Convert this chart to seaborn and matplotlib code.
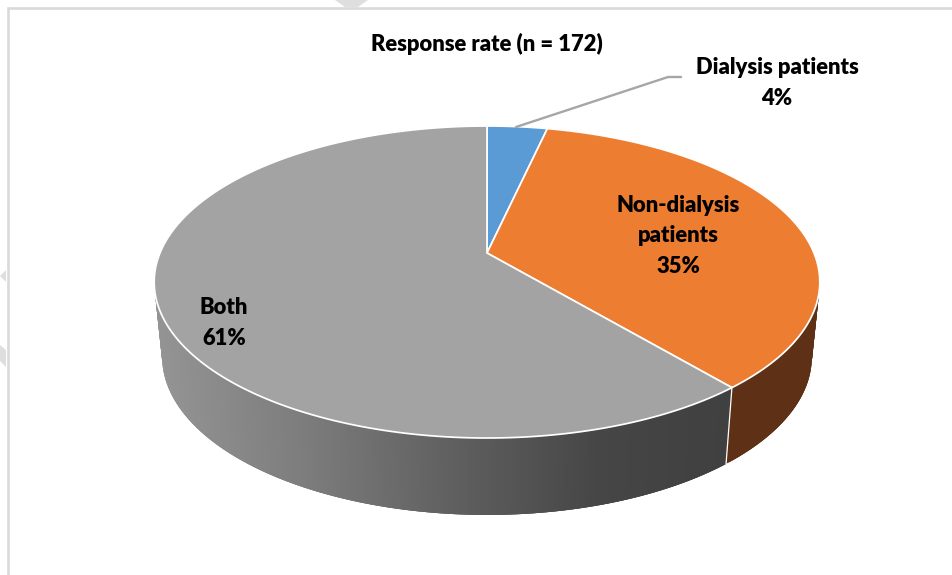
import numpy as np
import matplotlib
matplotlib.use("Agg")
import matplotlib.pyplot as plt
import seaborn as sns
from matplotlib.path import Path
from matplotlib.patches import Polygon
from matplotlib.collections import PolyCollection
from matplotlib.transforms import Transform

# ---- data ----
categories = ["Dialysis patients", "Non-dialysis\npatients", "Both"]
values = [3.5, 35.4, 61.1]
percent_labels = ["4%", "35%", "61%"]
title = "Response rate (n = 172)"

# ---- style ----
top_colors = sns.color_palette(["#5B9BD5", "#ED7D31", "#A3A3A3"])
wall_colors = ["#2F5F8A", "#5E3116", None]
gray_x = [150, 300, 450, 600, 700, 740]
gray_v = [0x95, 0x7D, 0x60, 0x46, 0x41, 0x40]

sns.set_theme(style="white")
plt.rcParams["font.family"] = ["Lato", "DejaVu Sans"]

CX, CY, A, B, K = 487.0, 253.0, 327.0, 150.6, 0.186
S, E, D = 0.976, 0.013, 74.5


def project(uv):
    uv = np.atleast_2d(uv)
    w = 1 + K * uv[:, 1]
    return np.column_stack([CX + A * uv[:, 0] / w, CY - B * uv[:, 1] / w])


class DiskPerspective(Transform):
    input_dims = output_dims = 2
    has_inverse = False
    is_affine = False

    def transform_non_affine(self, values):
        return project(values)

    def transform_path_non_affine(self, path):
        pts, codes = [], []
        for curve, code in path.iter_bezier():
            if code == Path.MOVETO:
                pts.append(curve.control_points[0])
                codes.append(Path.MOVETO)
            else:
                p = curve(np.linspace(0, 1, 25)[1:])
                pts.extend(p)
                codes.extend([Path.LINETO] * len(p))
        return Path(project(np.array(pts)), codes)


def rim(theta_deg):
    t = np.radians(theta_deg)
    return project(np.column_stack([np.cos(t), np.sin(t)]))


def lower(p):
    return np.column_stack([CX + S * (p[:, 0] - CX), p[:, 1] + (p[:, 1] - CY) * E + D])


fig = plt.figure(figsize=(9.52, 5.75), dpi=100, facecolor="white")
ax = fig.add_axes([0, 0, 1, 1])
wedges, _ = ax.pie(values, colors=top_colors, startangle=90, counterclock=False,
                   wedgeprops=dict(edgecolor="white", linewidth=1.25, zorder=5))
ax.set_aspect("auto")
ax.set_xlim(0, 952)
ax.set_ylim(575, 0)
ax.axis("off")

persp = DiskPerspective() + ax.transData
for w in wedges:
    w.set_transform(persp)

# side wall: overlapping strips so no seams appear between them
for w, wc in zip(wedges, wall_colors):
    th = np.append(np.arange(w.theta1, w.theta2, 0.5), w.theta2)
    up = rim(th)
    lo = lower(up)
    polys, cols = [], []
    n = len(th)
    for i in range(n - 1):
        j = min(i + 3, n - 1)
        polys.append([up[i], up[j], lo[j], lo[i]])
        if wc is None:
            g = np.interp((up[i, 0] + up[i + 1, 0]) / 2, gray_x, gray_v) / 255
            cols.append((g, g, g))
        else:
            cols.append(matplotlib.colors.to_rgb(wc))
    ax.add_collection(PolyCollection(polys, facecolors=cols, edgecolors="none", zorder=2))

# white seam on the wall between the orange and grey slices
seam = rim(np.array([wedges[1].theta1]))
seam_lo = lower(seam)
ax.plot([seam[0, 0], seam_lo[0, 0]], [seam[0, 1], seam_lo[0, 1]], color="white", lw=0.9, zorder=3)

# leader line
ax.plot([516, 668, 681], [127, 77, 77], color="#A6A6A6", lw=1.7, zorder=6, solid_joinstyle="miter")

txt = dict(ha="center", va="center", fontweight="heavy", color="black", fontsize=15.8, zorder=7)
ax.text(487, 44, title, **txt)
ax.text(777, 83, f"{categories[0]}\n{percent_labels[0]}", linespacing=1.54, **txt)
ax.text(678, 236, f"{categories[1]}\n{percent_labels[1]}", linespacing=1.54, **txt)
ax.text(224, 323, f"{categories[2]}\n{percent_labels[2]}", linespacing=1.54, **txt)

# frame and background fragments of the source image
ax.plot([7.5, 7.5, 952], [575, 8, 8], color="#DADADA", lw=1.9, zorder=1, solid_joinstyle="miter")
for tri in ([(335, 0), (368, 0), (358, 7), (345, 7)],
            [(0, 276), (6, 270), (6, 282)],
            [(0, 345), (6, 350), (6, 367), (0, 361)]):
    ax.add_patch(Polygon(tri, closed=True, facecolor="#DEDEDE", edgecolor="none", zorder=1))

fig.savefig("out.png", dpi=100)
